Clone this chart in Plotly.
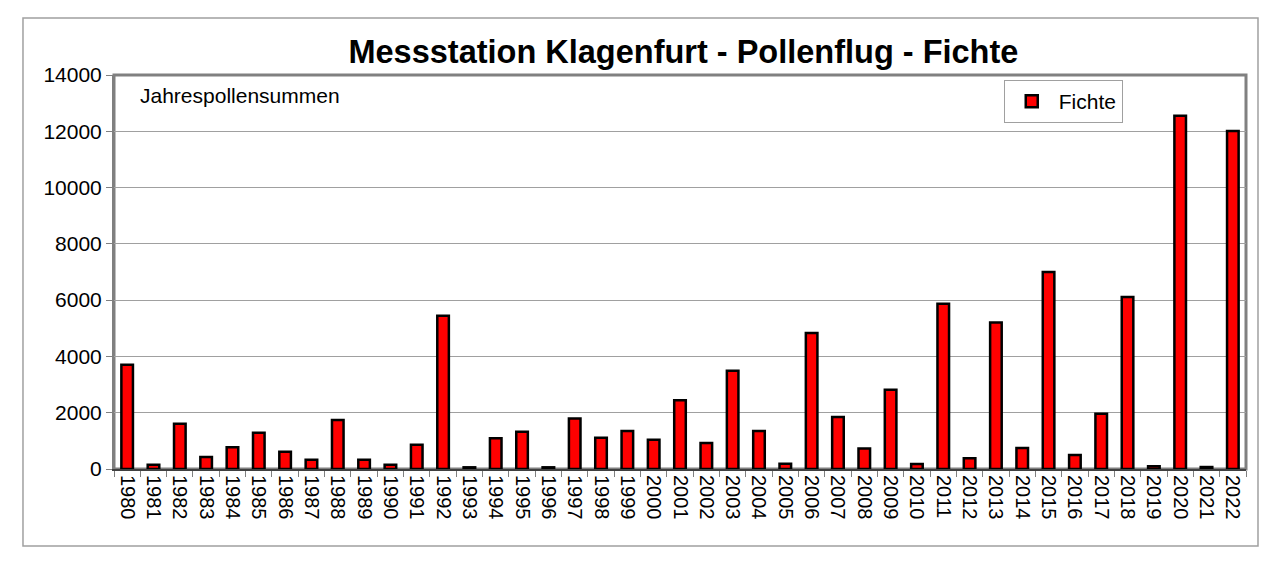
import plotly.graph_objects as go

years = [str(y) for y in range(1980, 2023)]
fichte = [3700, 150, 1610, 430, 770, 1290, 615, 330, 1740, 330,
          150, 860, 5445, 60, 1090, 1325, 60, 1790, 1110, 1350,
          1040, 2440, 925, 3490, 1350, 190, 4830, 1850, 730, 2820,
          180, 5870, 380, 5210, 745, 7000, 500, 1965, 6110, 100,
          12550, 70, 12010]
ytick_vals = [0, 2000, 4000, 6000, 8000, 10000, 12000, 14000]
ytick_text = [str(v) for v in ytick_vals]

FONT = "Liberation Sans, Arial, sans-serif"

fig = go.Figure()
fig.add_trace(go.Bar(x=years, y=fichte, name="Fichte",
                     marker=dict(color="#ff0000", line=dict(color="black", width=2.5))))

# page has an 8px body margin, so the figure is a bit smaller than the window
fig.update_layout(
    width=1272, height=558,
    margin=dict(l=106, r=34, t=67, b=97),
    paper_bgcolor="white", plot_bgcolor="white",
    font=dict(family=FONT, size=21, color="black"),
    bargap=0.56,
    showlegend=True,
    title=dict(text="<b>Messstation Klagenfurt - Pollenflug - Fichte</b>",
               xref="paper", x=0.503, xanchor="center", y=0.921, yanchor="middle",
               font=dict(size=32.5, family=FONT)),
    legend=dict(x=0.786, y=0.987, xanchor="left", yanchor="top",
                bgcolor="white", bordercolor="#a0a0a0", borderwidth=1,
                font=dict(size=21), itemwidth=44),
)

fig.update_xaxes(type="category", tickangle=90, ticks="outside", tickson="boundaries",
                 ticklen=6, tickcolor="#808080", showline=True, linecolor="#404040",
                 linewidth=2, showgrid=False, tickfont=dict(size=20))
fig.update_yaxes(range=[0, 14000], tickvals=ytick_vals, ticktext=ytick_text,
                 ticks="outside", ticklen=6, tickcolor="#808080", showline=True,
                 linecolor="#808080", linewidth=2, showgrid=True, gridcolor="#a0a0a0",
                 gridwidth=1, zeroline=False, tickfont=dict(size=21))

# plot frame on top/right
fig.add_shape(type="rect", xref="paper", yref="paper", x0=0, x1=1, y0=0, y1=1,
              line=dict(color="#808080", width=3), layer="below")
# outer chart frame
fig.add_shape(type="rect", xref="paper", yref="paper", x0=-0.0804, x1=1.0106,
              y0=-0.1954, y1=1.1447, line=dict(color="#a0a0a0", width=1.5))

fig.add_annotation(text="Jahrespollensummen", xref="paper", yref="paper",
                   x=0.021, y=0.949, xanchor="left", yanchor="middle",
                   showarrow=False, font=dict(size=21))

fig.write_html("out.html")
